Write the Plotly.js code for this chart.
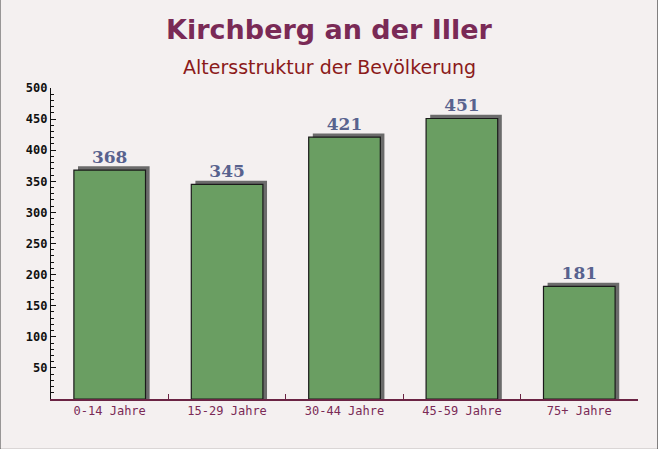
<!DOCTYPE html>
<html>
<head>
<meta charset="utf-8">
<script src="https://cdn.plot.ly/plotly-3.0.1.min.js"></script>
<style>
html,body{margin:0;padding:0;}
#chart{width:658px;height:449px;}
</style>
</head>
<body>
<div id="chart"></div>
<script>
const categories = ["0-14 Jahre", "15-29 Jahre", "30-44 Jahre", "45-59 Jahre", "75+ Jahre"];
const values = [368, 345, 421, 451, 181];
const yTicks = [50, 100, 150, 200, 250, 300, 350, 400, 450, 500];

const barWidth = 0.61;
const shadowShiftX = 0.035;
const shadowShiftY = 6;

const shadow = {
  type: "bar",
  x: categories,
  y: values.map(v => v + shadowShiftY),
  width: barWidth,
  offset: -barWidth / 2 + shadowShiftX,
  marker: {color: "#6b6b6b", line: {width: 0}},
  hoverinfo: "skip",
  showlegend: false
};
const bars = {
  type: "bar",
  x: categories,
  y: values,
  width: barWidth,
  offset: -barWidth / 2,
  marker: {color: "#6a9e62", line: {color: "#1a1a1a", width: 1.2}},
  text: values.map(String),
  textposition: "outside",
  cliponaxis: false,
  textfont: {family: "DejaVu Serif", size: 17, color: "#58628e", weight: "bold"},
  showlegend: false
};

const layout = {
  width: 658,
  height: 449,
  margin: {l: 51, r: 20, t: 88, b: 50},
  paper_bgcolor: "#f4f0f0",
  plot_bgcolor: "rgba(0,0,0,0)",
  barmode: "overlay",
  title: {
    text: "<b>Kirchberg an der Iller</b>",
    font: {family: "DejaVu Sans", size: 27, color: "#7a2a56"},
    xref: "container", x: 0.5, xanchor: "center", y: 0.935, yanchor: "middle"
  },
  annotations: [{
    text: "Altersstruktur der Bevölkerung",
    xref: "paper", yref: "paper", x: 0.4736, y: 1.0, yshift: 8,
    xanchor: "center", yanchor: "bottom", showarrow: false,
    font: {family: "DejaVu Sans", size: 19, color: "#8b1a1a"}
  }],
  xaxis: {
    type: "category",
    showgrid: false,
    showline: true, linecolor: "#6b2444", linewidth: 1.5,
    ticks: "inside", tickson: "boundaries", ticklen: 5, tickcolor: "#6b2444",
    tickfont: {family: "DejaVu Sans Mono", size: 12, color: "#7a2a56"},
    range: [-0.5, 4.5],
    fixedrange: true
  },
  yaxis: {
    range: [0, 500],
    showgrid: false,
    zeroline: false,
    showline: true, linecolor: "#111", linewidth: 1.2,
    tickvals: yTicks,
    ticks: "inside", ticklen: 5, tickcolor: "#111",
    minor: {dtick: 10, ticks: "inside", ticklen: 3, tickcolor: "#111"},
    tickfont: {family: "DejaVu Sans Mono", size: 12, color: "#111", weight: "bold"},
    fixedrange: true
  },
  shapes: [
    {type: "rect", xref: "paper", yref: "paper", x0: -0.087, x1: 1.034, y0: -0.162, y1: 1.285,
     line: {color: "#222", width: 1}, fillcolor: "rgba(0,0,0,0)"}
  ]
};

Plotly.newPlot("chart", [shadow, bars], layout, {displayModeBar: false, staticPlot: true});
</script>
</body>
</html>
